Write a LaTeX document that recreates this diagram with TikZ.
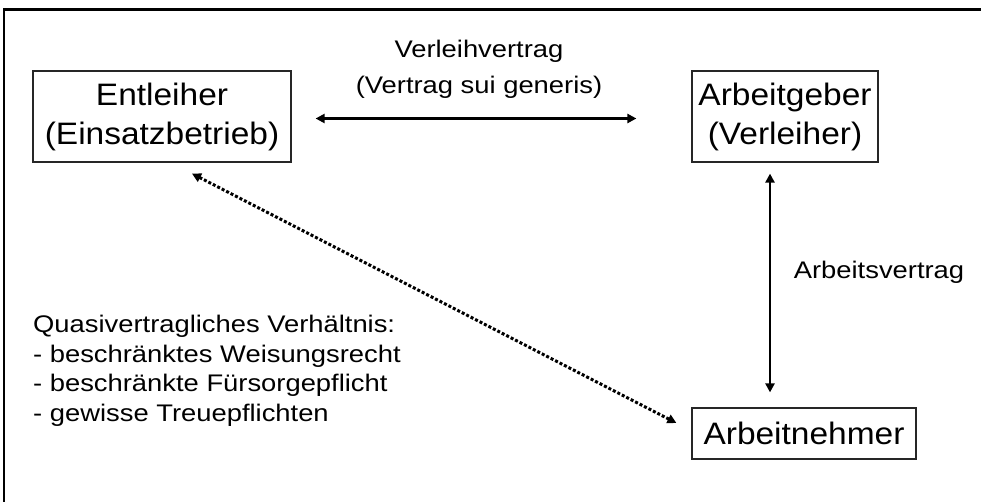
\documentclass[tikz,border=0pt]{standalone}
\usepackage{fontspec}
\setmainfont{Liberation Sans}
\newfontfamily\bigf[FakeStretch=1.08]{Liberation Sans}
\newfontfamily\smallf[FakeStretch=1.14]{Liberation Sans}
\usetikzlibrary{arrows.meta}
\begin{document}
\begin{tikzpicture}[x=1pt,y=1pt,
  box/.style={draw=black!85,line width=1.2pt,inner sep=0pt,align=center,
    font=\bigf\fontsize{31}{39}\selectfont},
  lbl/.style={inner sep=0pt,font=\smallf\fontsize{24}{29.5}\selectfont},
  conn/.style={line width=2.6pt,{Triangle[length=9pt,width=9pt]}-{Triangle[length=9pt,width=9pt]}},
  dotconn/.style={line width=3pt,dash pattern=on 3pt off 2pt,{Triangle[length=9pt,width=9pt]}-{Triangle[length=9pt,width=9pt]}}]
\useasboundingbox (0,0) rectangle (981,501);
\draw[line width=2.6pt] (4,-20) -- (4,491.5) -- (1000,491.5);
\node[box,minimum width=258pt,minimum height=91pt] (e) at (162,384.5) {Entleiher\\(Einsatzbetrieb)};
\node[box,minimum width=186pt,minimum height=91pt] (a) at (785,384.5) {Arbeitgeber\\(Verleiher)};
\node[box,minimum width=224pt,minimum height=51pt] (n) at (804,67.5) {Arbeitnehmer};
\draw[conn,shorten <=24pt,shorten >=55pt] ([yshift=-2pt]e.east) -- ([yshift=-2pt]a.west);
\draw[conn,shorten <=11pt,shorten >=15pt] ([xshift=-15pt]a.south) -- ([xshift=-34pt]n.north);
\draw[dotconn] ([xshift=30pt,yshift=-11pt]e.south) -- ([xshift=-15pt,yshift=10.5pt]n.west);
\node[lbl,align=center] (vv) at (479,431.5) {Verleihvertrag\\[6pt](Vertrag sui generis)};
\node[lbl] (av) at (879,229) {Arbeitsvertrag};
\node[lbl,anchor=west,align=left] (q) at (33,130) {Quasivertragliches Verhältnis:\\- beschränktes Weisungsrecht\\- beschränkte Fürsorgepflicht\\- gewisse Treuepflichten};
\end{tikzpicture}
\end{document}
